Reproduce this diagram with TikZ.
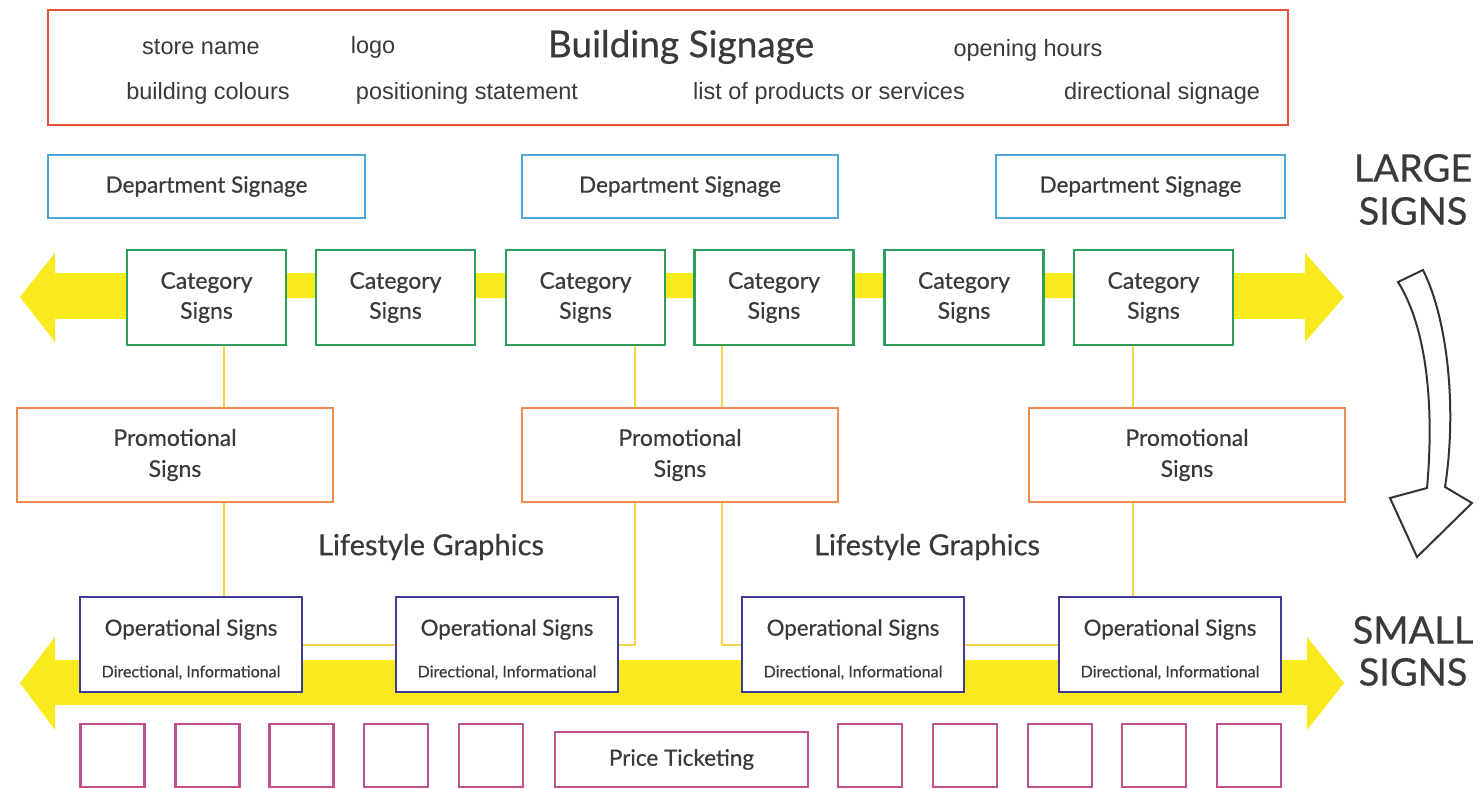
\documentclass[tikz,border=0pt]{standalone}
\usepackage{fontspec}
\setmainfont{Lato}[FakeBold=0.5]
\newfontfamily\helv{Liberation Sans}
\definecolor{txt}{HTML}{3A3A3A}
\definecolor{cbuild}{HTML}{E5533B}
\definecolor{cdept}{HTML}{4BA8D8}
\definecolor{ccat}{HTML}{2E9E5B}
\definecolor{cpromo}{HTML}{F08C4E}
\definecolor{cop}{HTML}{3F3A93}
\definecolor{cprice}{HTML}{C2508E}
\definecolor{cyel}{HTML}{F8EA1C}
\definecolor{cconn}{HTML}{F6D44A}
\tikzset{
  box/.style={draw, line width=2.5pt, fill=white, inner sep=0pt, align=center, text=txt},
  buildbox/.style={box, draw=cbuild, minimum width=1240pt, minimum height=115pt},
  deptbox/.style={box, draw=cdept, minimum height=63pt, font=\fontsize{22.5}{26}\selectfont},
  catbox/.style={box, draw=ccat, minimum width=159pt, minimum height=95pt, font=\fontsize{23}{30}\selectfont},
  promobox/.style={box, draw=cpromo, minimum width=316pt, minimum height=94pt, font=\fontsize{23}{31}\selectfont},
  opbox/.style={box, draw=cop, minimum width=222pt, minimum height=95pt},
  optitle/.style={text=txt, inner sep=0pt, font=\fontsize{22.3}{26}\selectfont},
  opsub/.style={text=txt, inner sep=0pt, font=\fontsize{16}{18}\selectfont},
  pricebox/.style={box, draw=cprice, line width=2.2pt, minimum width=64pt, minimum height=63pt, fill=none},
  toptext/.style={text=txt, inner sep=0pt, font=\helv\fontsize{23.5}{26}\selectfont},
  bigtext/.style={text=txt, inner sep=0pt, font=\fontsize{38}{42}\selectfont},
  lifetext/.style={text=txt, inner sep=0pt, font=\fontsize{29}{32}\selectfont},
  conn/.style={draw=cconn, line width=2pt},
  yel/.style={fill=cyel, draw=none}
}
\begin{document}
\begin{tikzpicture}[x=1pt,y=-1pt]
\useasboundingbox (0,0) rectangle (1483,789);
\fill[white] (0,0) rectangle (1483,789);

% yellow arrows
\fill[yel] (20,297) -- (55,253) -- (55,273) -- (1305,273) -- (1305,253) -- (1344,297)
  -- (1305,342) -- (1305,298) -- (55,298) -- (55,342) -- cycle;
\fill[yel] (55,273) rectangle (127,319);
\fill[yel] (1233,273) rectangle (1305,319);
\fill[yel] (20,683) -- (55,637) -- (55,660) -- (1307,660) -- (1307,637) -- (1344,683)
  -- (1307,730) -- (1307,705) -- (55,705) -- (55,730) -- cycle;

% building signage
\node[buildbox] (build) at (668,67.5) {};
\node[toptext] (t1) at (201,47) {store name};
\node[toptext] (t2) at (373,47) {logo};
\node[text=txt, inner sep=0pt, font=\fontsize{37}{40}\selectfont] (t3) at (681,47) {Building Signage};
\node[toptext] (t4) at (1028,50) {opening hours};
\node[toptext] (t5) at (208,93) {building colours};
\node[toptext] (t6) at (467,93) {positioning statement};
\node[toptext] (t7) at (829,93) {list of products or services};
\node[toptext] (t8) at (1162,93) {directional signage};

% department
\node[deptbox, minimum width=317pt] (d1) at (206.5,186.5) {Department Signage};
\node[deptbox, minimum width=316pt] (d2) at (680,186.5) {Department Signage};
\node[deptbox, minimum width=289pt] (d3) at (1140.5,186.5) {Department Signage};

\node[bigtext] (large1) at (1413,168) {LARGE};
\node[bigtext] (large2) at (1413,211) {SIGNS};
\node[bigtext] (small1) at (1413,630) {SMALL};
\node[bigtext] (small2) at (1413,672) {SIGNS};

% coordinates for connector columns
\coordinate (xa) at (224,0);
\coordinate (xb) at (635,0);
\coordinate (xc) at (722,0);
\coordinate (xd) at (1133,0);

% category
\node[catbox] (c1) at (206.5,297.5) {Category\\Signs};
\node[catbox] (c2) at (395.5,297.5) {Category\\Signs};
\node[catbox] (c3) at (585.5,297.5) {Category\\Signs};
\node[catbox] (c4) at (774,297.5) {Category\\Signs};
\node[catbox] (c5) at (964,297.5) {Category\\Signs};
\node[catbox] (c6) at (1153.5,297.5) {Category\\Signs};

% promotional
\node[promobox] (p1) at (175,455) {Promotional\\Signs};
\node[promobox] (p2) at (680,455) {Promotional\\Signs};
\node[promobox] (p3) at (1187,455) {Promotional\\Signs};

% operational
\node[opbox] (o1) at (191,644.5) {};
\node[opbox] (o2) at (507,644.5) {};
\node[opbox] (o3) at (853,644.5) {};
\node[opbox] (o4) at (1170,644.5) {};
\foreach \n in {1,2,3,4}{
  \node[optitle] (o\n t) at ([yshift=15pt]o\n.center) {Operational Signs};
  \node[opsub] (o\n s) at ([yshift=-28pt]o\n.center) {Directional, Informational};
}

% connectors
\draw[conn] (c1.south -| xa) -- (p1.north -| xa);
\draw[conn] (p1.south -| xa) -- (o1.north -| xa);
\draw[conn] (c3.south -| xb) -- (p2.north -| xb);
\draw[conn] (p2.south -| xb) |- (o2.east);
\draw[conn] (c4.south -| xc) -- (p2.north -| xc);
\draw[conn] (p2.south -| xc) |- (o3.west);
\draw[conn] (o1.east) -- (o2.west);
\draw[conn] (o3.east) -- (o4.west);
\draw[conn] (c6.south -| xd) -- (p3.north -| xd);
\draw[conn] (p3.south -| xd) -- (o4.north -| xd);

% lifestyle
\node[lifetext] (l1) at (431,547) {Lifestyle Graphics};
\node[lifetext] (l2) at (927,547) {Lifestyle Graphics};

% price ticketing
\foreach \i/\x in {1/112.5,2/207.5,3/301.5,4/396,5/491,6/870,7/965,8/1060,9/1154,10/1249}{
  \node[pricebox] (sq\i) at (\x,755.5) {};
}
\node[box, draw=cprice, line width=2.2pt, minimum width=253pt, minimum height=55pt, font=\fontsize{22.5}{26}\selectfont] (price) at (681.5,759.5) {Price Ticketing};

% curved outline arrow
\draw[line width=2pt, draw=black!80, fill=white, line join=miter]
  (1398,282) -- (1423,270) .. controls (1448,320) and (1457,410) .. (1445,487)
  -- (1472,503) -- (1417,557) -- (1390,498) -- (1427,488)
  .. controls (1434,410) and (1428,330) .. (1398,282) -- cycle;
\end{tikzpicture}
\end{document}
